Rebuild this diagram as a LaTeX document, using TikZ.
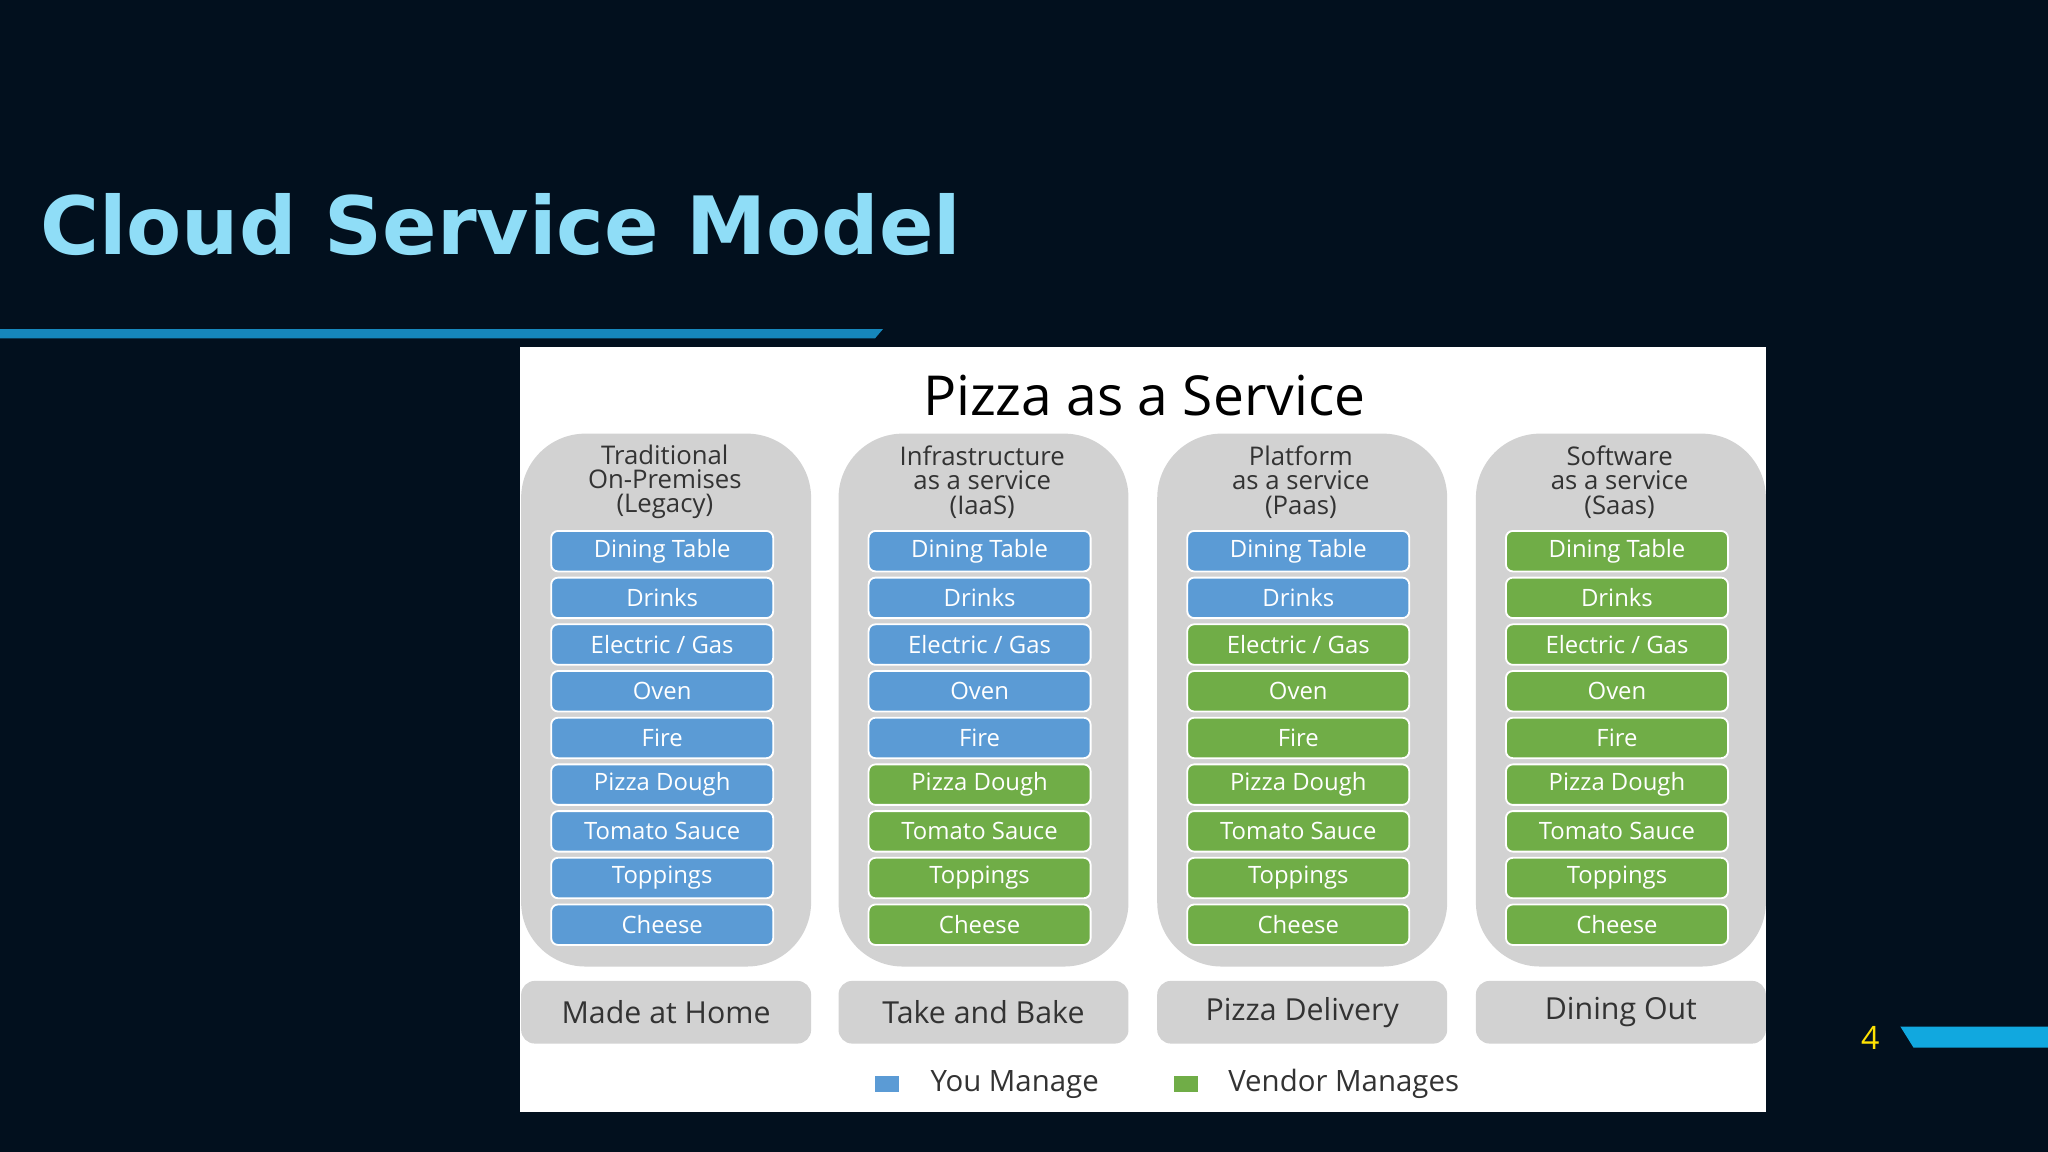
\documentclass[tikz,border=0pt]{standalone}
\usepackage{fontspec}
\setmainfont{Open Sans}
\newfontfamily\titlefont{DejaVu Sans}
\definecolor{bg}{HTML}{02101E}
\definecolor{ttl}{HTML}{8FDDF7}
\definecolor{bar}{HTML}{1687BC}
\definecolor{cyanbar}{HTML}{11A8DF}
\definecolor{bl}{HTML}{5B9BD5}
\definecolor{gr}{HTML}{70AD47}
\definecolor{colg}{HTML}{D2D2D2}
\definecolor{tx}{HTML}{333333}
\begin{document}
\begin{tikzpicture}[x=0.01cm,y=-0.01cm,
  item/.style={draw=white,line width=0.4pt,rounded corners=1.5pt,minimum width=170*0.01cm,minimum height=31*0.01cm,inner sep=0pt,text=white,font=\fontsize{5.2}{6}\selectfont},
  colbox/.style={fill=colg,rounded corners=14pt},
  hdr/.style={align=center,text=tx,font=\fontsize{5.6}{5.3}\selectfont},
  foot/.style={fill=colg,rounded corners=3pt,minimum width=222*0.01cm,minimum height=48*0.01cm,inner sep=0pt,text=tx,font=\fontsize{6.6}{8}\selectfont}]
\fill[bg] (0,0) rectangle (1568,882);
\useasboundingbox (0,0) rectangle (1568,882);
\node[anchor=base west,inner sep=0pt,text=ttl,font=\titlefont\bfseries\fontsize{17.5}{20}\selectfont] (title) at (30,195) {Cloud Service Model};
\fill[bar] (0,252) -- (676,252) -- (670,259) -- (0,259) -- cycle;
\fill[white] (398,266) rectangle (1352,851);
\node[text=black,font=\fontsize{12}{14}\selectfont] (pt) at (876,303) {Pizza as a Service};
\def\items{{"Dining Table","Drinks","Electric / Gas","Oven","Fire","Pizza Dough","Tomato Sauce","Toppings","Cheese"}}
\foreach \c/\xl/\nb/\ha/\hb/\hc/\ft in {
 0/399/9/Traditional/On-Premises/(Legacy)/Made at Home,
 1/642/5/Infrastructure/as a service/(IaaS)/Take and Bake,
 2/886/2/Platform/as a service/(Paas)/Pizza Delivery,
 3/1130/0/Software/as a service/(Saas)/Dining Out}{
  \fill[colbox] (\xl,332) rectangle ++(222,408);
  \node[hdr] (h\c) at (\xl+110,369) {\ha\\\hb\\\hc};
  \foreach \i in {0,...,8}{
    \pgfmathsetmacro\yy{422+35.75*\i}
    \pgfmathparse{\i<\nb ? "bl" : "gr"}\edef\fc{\pgfmathresult}
    \pgfmathparse{\items[\i]}\edef\lab{\pgfmathresult}
    \node[item,fill=\fc] (b\c-\i) at (\xl+108,\yy) {\lab};
  }
  \node[foot] (f\c) at (\xl+111,775) {\ft};
}
\fill[bl] (670,824) rectangle ++(18,12);
\node[anchor=west,text=tx,font=\fontsize{6.4}{8}\selectfont] (l1) at (700,830) {You Manage};
\fill[gr] (899,824) rectangle ++(18,12);
\node[anchor=west,text=tx,font=\fontsize{6.4}{8}\selectfont] (l2) at (928,830) {Vendor Manages};
\node[text=yellow!85!orange,font=\fontsize{7}{8}\selectfont] (pg) at (1432,795) {4};
\fill[cyanbar] (1455,786) -- (1568,786) -- (1568,802) -- (1465,802) -- cycle;
\end{tikzpicture}
\end{document}
